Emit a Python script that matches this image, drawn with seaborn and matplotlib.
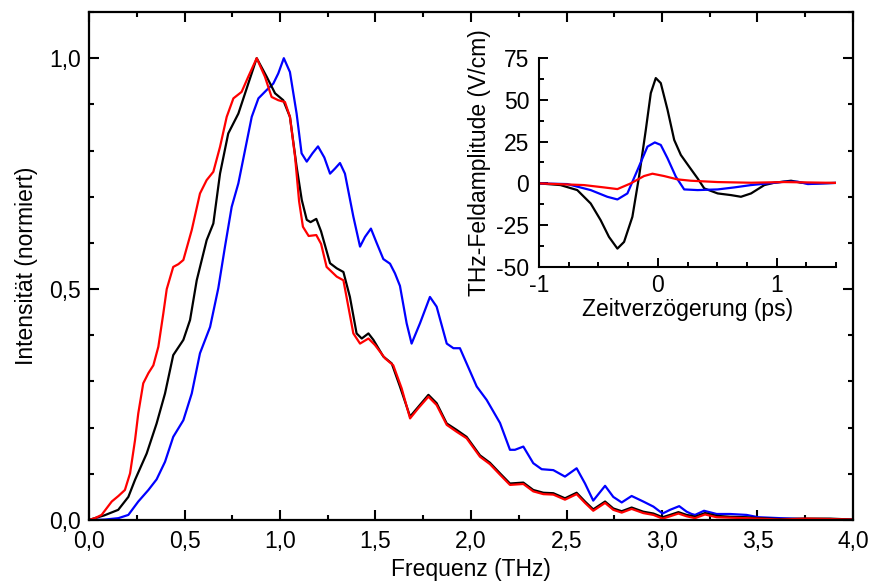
import numpy as np
import pandas as pd
import matplotlib
matplotlib.use("Agg")
import matplotlib.pyplot as plt
from matplotlib.ticker import MultipleLocator
import seaborn as sns

# ---------------- data: main spectrum ----------------
black_f = [0.00, 0.03, 0.08, 0.153, 0.206, 0.241, 0.302, 0.354, 0.398, 0.441, 0.494, 0.529, 0.564,
           0.616, 0.651, 0.686, 0.729, 0.782, 0.834, 0.878, 0.930, 0.974, 1.017, 1.052, 1.087,
           1.114, 1.140, 1.160, 1.190, 1.215, 1.262, 1.297, 1.332, 1.366, 1.401, 1.428, 1.463,
           1.489, 1.541, 1.585, 1.628, 1.681, 1.724, 1.777, 1.820, 1.873, 1.925, 1.977, 2.047,
           2.099, 2.152, 2.204, 2.274, 2.326, 2.379, 2.431, 2.492, 2.553, 2.597, 2.640, 2.702,
           2.745, 2.789, 2.841, 2.902, 2.955, 3.003, 3.042, 3.086, 3.129, 3.155, 3.173, 3.225,
           3.286, 3.356, 3.443, 3.504, 3.618, 3.757, 3.880, 3.993]
black_i = [0.000, 0.004, 0.010, 0.022, 0.050, 0.087, 0.144, 0.209, 0.274, 0.357, 0.390, 0.433, 0.519,
           0.606, 0.642, 0.750, 0.837, 0.880, 0.945, 1.000, 0.960, 0.924, 0.909, 0.873, 0.765,
           0.693, 0.650, 0.645, 0.652, 0.625, 0.556, 0.545, 0.537, 0.483, 0.404, 0.393, 0.404,
           0.390, 0.354, 0.339, 0.289, 0.224, 0.245, 0.271, 0.253, 0.209, 0.195, 0.180, 0.140,
           0.124, 0.101, 0.079, 0.081, 0.065, 0.059, 0.058, 0.047, 0.059, 0.040, 0.023, 0.040,
           0.025, 0.019, 0.027, 0.018, 0.014, 0.006, 0.011, 0.017, 0.011, 0.009, 0.007, 0.015,
           0.009, 0.007, 0.006, 0.004, 0.002, 0.003, 0.003, 0.001]

red_f = [0.00, 0.031, 0.066, 0.119, 0.154, 0.188, 0.215, 0.241, 0.258, 0.284, 0.311, 0.337, 0.363,
         0.389, 0.407, 0.441, 0.468, 0.494, 0.538, 0.581, 0.616, 0.651, 0.686, 0.721, 0.756,
         0.799, 0.834, 0.878, 0.921, 0.956, 0.991, 1.026, 1.052, 1.079, 1.100, 1.120, 1.150,
         1.190, 1.215, 1.244, 1.297, 1.332, 1.384, 1.419, 1.463, 1.497, 1.550, 1.593, 1.637,
         1.681, 1.724, 1.777, 1.820, 1.873, 1.925, 1.977, 2.047, 2.099, 2.152, 2.204, 2.274,
         2.326, 2.379, 2.431, 2.492, 2.553, 2.597, 2.640, 2.702, 2.745, 2.789, 2.841, 2.902,
         2.955, 3.003, 3.042, 3.086, 3.129, 3.173, 3.225, 3.286, 3.356, 3.443, 3.504, 3.618,
         3.757, 3.880, 3.993]
red_i = [0.000, 0.004, 0.011, 0.040, 0.052, 0.065, 0.101, 0.173, 0.231, 0.296, 0.318, 0.335, 0.375,
         0.447, 0.500, 0.548, 0.554, 0.563, 0.628, 0.707, 0.736, 0.754, 0.808, 0.873, 0.913,
         0.927, 0.960, 1.000, 0.960, 0.916, 0.909, 0.905, 0.873, 0.786, 0.690, 0.635, 0.615,
         0.617, 0.598, 0.548, 0.527, 0.519, 0.404, 0.382, 0.393, 0.379, 0.350, 0.335, 0.285,
         0.220, 0.242, 0.267, 0.249, 0.206, 0.191, 0.177, 0.137, 0.121, 0.098, 0.076, 0.078,
         0.062, 0.056, 0.055, 0.044, 0.056, 0.037, 0.020, 0.037, 0.022, 0.016, 0.024, 0.015,
         0.011, 0.003, 0.008, 0.014, 0.008, 0.004, 0.012, 0.006, 0.005, 0.004, 0.003, 0.001,
         0.003, 0.002, 0.001]

blue_f = [0.00, 0.084, 0.154, 0.206, 0.258, 0.311, 0.354, 0.398, 0.441, 0.494, 0.538, 0.581, 0.634,
          0.677, 0.712, 0.747, 0.782, 0.817, 0.852, 0.887, 0.930, 0.965, 0.991, 1.020, 1.052,
          1.087, 1.113, 1.140, 1.170, 1.199, 1.232, 1.262, 1.288, 1.314, 1.340, 1.384, 1.419,
          1.445, 1.476, 1.506, 1.541, 1.576, 1.602, 1.628, 1.663, 1.689, 1.733, 1.785, 1.820,
          1.873, 1.908, 1.942, 1.977, 2.030, 2.082, 2.152, 2.204, 2.230, 2.274, 2.326, 2.370,
          2.431, 2.492, 2.553, 2.597, 2.640, 2.702, 2.745, 2.789, 2.841, 2.902, 2.955, 3.003,
          3.042, 3.090, 3.129, 3.155, 3.173, 3.220, 3.286, 3.356, 3.443, 3.504, 3.618, 3.757,
          3.993]
blue_i = [0.000, 0.001, 0.004, 0.011, 0.040, 0.065, 0.088, 0.126, 0.180, 0.216, 0.274, 0.361, 0.418,
          0.502, 0.592, 0.678, 0.729, 0.801, 0.873, 0.913, 0.931, 0.945, 0.967, 1.000, 0.970,
          0.880, 0.794, 0.776, 0.794, 0.809, 0.785, 0.750, 0.761, 0.773, 0.750, 0.657, 0.592,
          0.613, 0.631, 0.600, 0.565, 0.555, 0.534, 0.507, 0.426, 0.382, 0.426, 0.483, 0.462,
          0.382, 0.372, 0.372, 0.339, 0.289, 0.260, 0.210, 0.152, 0.152, 0.159, 0.123, 0.110,
          0.108, 0.094, 0.112, 0.079, 0.042, 0.074, 0.050, 0.038, 0.052, 0.040, 0.029, 0.014,
          0.022, 0.030, 0.018, 0.013, 0.011, 0.020, 0.013, 0.013, 0.011, 0.006, 0.004, 0.002,
          0.001]

# ---------------- data: inset time traces ----------------
black_t = [-1.00, -0.819, -0.678, -0.565, -0.481, -0.411, -0.340, -0.284, -0.214, -0.158, -0.101,
           -0.059, -0.017, 0.025, 0.082, 0.138, 0.194, 0.264, 0.335, 0.391, 0.504, 0.616, 0.700,
           0.785, 0.897, 0.981, 1.122, 1.207, 1.291, 1.50]
black_e = [0.0, -1.0, -4.0, -12.0, -22.0, -32.0, -39.0, -35.0, -20.0, 4.0, 32.0,
           54.0, 63.0, 60.0, 44.0, 26.0, 17.0, 10.0, 3.0, -3.0, -6.0, -7.0, -8.0,
           -6.0, -1.0, 0.4, 1.6, 0.4, 0.0, 0.3]

blue_t = [-1.00, -0.762, -0.565, -0.425, -0.340, -0.256, -0.171, -0.087, -0.025, 0.025, 0.082,
          0.152, 0.222, 0.335, 0.504, 0.644, 0.785, 0.926, 1.066, 1.179, 1.263, 1.50]
blue_e = [0.0, -0.4, -4.0, -8.0, -9.6, -6.0, 8.0, 22.0, 24.5, 23.0, 15.0,
          4.0, -3.6, -4.0, -3.6, -2.4, -1.0, 0.0, 1.0, 1.0, -0.4, 0.3]

red_t = [-1.00, -0.622, -0.453, -0.340, -0.228, -0.116, -0.045, 0.053, 0.166, 0.278, 0.504,
         0.785, 1.066, 1.50]
red_e = [0.0, -1.0, -2.4, -3.4, 0.0, 4.4, 5.8, 4.4, 2.4, 1.6, 0.8,
         0.4, 0.8, 0.3]

main_xticks = [0.0, 0.5, 1.0, 1.5, 2.0, 2.5, 3.0, 3.5, 4.0]
main_xlabels = ["0,0", "0,5", "1,0", "1,5", "2,0", "2,5", "3,0", "3,5", "4,0"]
main_yticks = [0.0, 0.5, 1.0]
main_ylabels = ["0,0", "0,5", "1,0"]
inset_xticks = [-1, 0, 1]
inset_xlabels = ["-1", "0", "1"]
inset_yticks = [-50, -25, 0, 25, 50, 75]
inset_ylabels = ["-50", "-25", "0", "25", "50", "75"]

# ---------------- style ----------------
sns.set_theme(style="ticks")
plt.rcParams["font.family"] = ["Liberation Sans", "DejaVu Sans"]
plt.rcParams["lines.solid_joinstyle"] = "round"
plt.rcParams["lines.solid_capstyle"] = "round"
FS = 16.5

fig = plt.figure(figsize=(8.7, 5.86), dpi=100)
ax = fig.add_axes([89 / 870, 66 / 586, 764 / 870, 508 / 586])

lw = 1.6
sns.lineplot(x=blue_f, y=blue_i, ax=ax, color="#0000ff", lw=lw, estimator=None, sort=False)
sns.lineplot(x=black_f, y=black_i, ax=ax, color="black", lw=lw, estimator=None, sort=False)
sns.lineplot(x=red_f, y=red_i, ax=ax, color="#ff0000", lw=lw, estimator=None, sort=False)

ax.set_xlim(0, 4)
ax.set_ylim(0, 1.1)
ax.set_xticks(main_xticks, main_xlabels)
ax.set_yticks(main_yticks, main_ylabels)
ax.xaxis.set_minor_locator(MultipleLocator(0.25))
ax.yaxis.set_minor_locator(MultipleLocator(0.1))
ax.tick_params(which="both", direction="in", top=True, right=True, width=1.5, color="black",
               labelsize=FS, labelcolor="black")
ax.tick_params(which="major", length=7)
ax.tick_params(which="minor", length=3.5)
ax.tick_params(axis="x", which="major", pad=7)
ax.tick_params(axis="y", which="major", pad=6)
for s in ax.spines.values():
    s.set_linewidth(1.6)
    s.set_color("black")
ax.set_xlabel("Frequenz (THz)", fontsize=FS, color="black", labelpad=4)
ax.set_ylabel("Intensität (normiert)", fontsize=FS, color="black", labelpad=8)

# ---------------- inset ----------------
ins = fig.add_axes([539 / 870, (586 - 267) / 586, 297 / 870, 209 / 586])
ins.patch.set_alpha(0)
sns.lineplot(x=black_t, y=black_e, ax=ins, color="black", lw=lw, estimator=None, sort=False)
sns.lineplot(x=blue_t, y=blue_e, ax=ins, color="#0000ff", lw=lw, estimator=None, sort=False)
sns.lineplot(x=red_t, y=red_e, ax=ins, color="#ff0000", lw=lw, estimator=None, sort=False)
ins.set_xlim(-1, 1.5)
ins.set_ylim(-50, 75)
ins.set_xticks(inset_xticks, inset_xlabels)
ins.set_yticks(inset_yticks, inset_ylabels)
ins.xaxis.set_minor_locator(MultipleLocator(0.25))
ins.yaxis.set_minor_locator(MultipleLocator(12.5))
ins.spines["top"].set_visible(False)
ins.spines["right"].set_visible(False)
for s in ["left", "bottom"]:
    ins.spines[s].set_linewidth(1.5)
    ins.spines[s].set_color("black")
ins.tick_params(which="both", direction="in", width=1.4, color="black", labelsize=FS,
                labelcolor="black")
ins.tick_params(which="major", length=6.5)
ins.tick_params(which="minor", length=3.5)
ins.tick_params(axis="x", which="major", pad=5)
ins.tick_params(axis="y", which="major", pad=7)
ins.set_xlabel("Zeitverzögerung (ps)", fontsize=FS, color="black", labelpad=1)
ins.set_ylabel("THz-Feldamplitude (V/cm)", fontsize=FS, color="black", labelpad=4)

fig.savefig("out.png", dpi=100)
